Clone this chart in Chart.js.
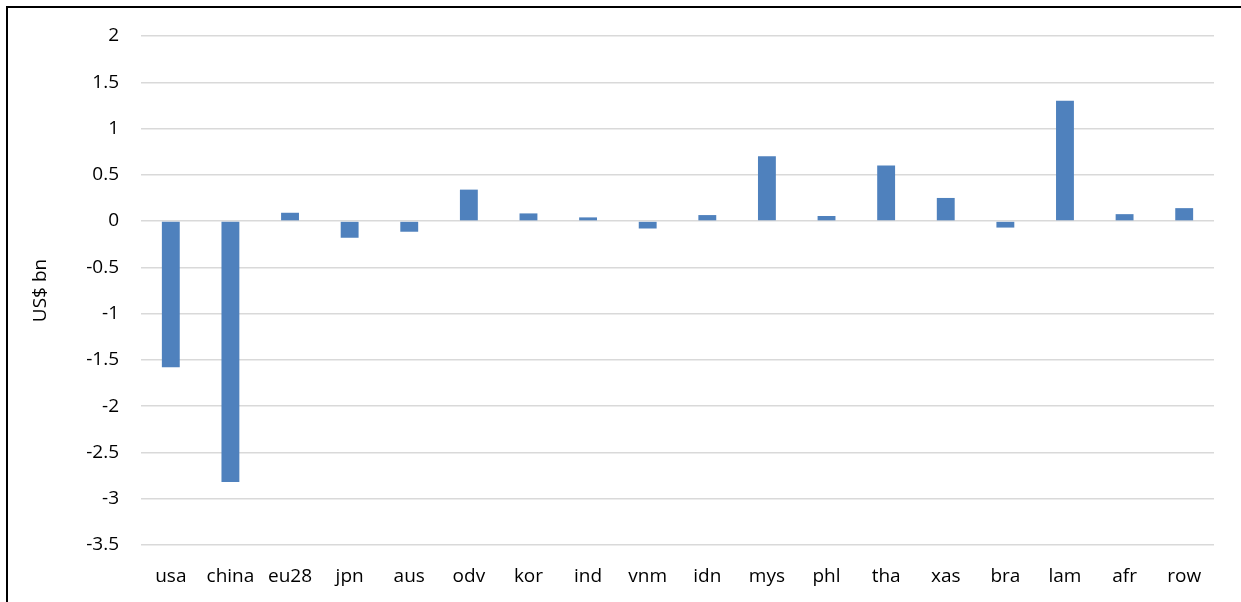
<!DOCTYPE html>
<html>
<head>
<meta charset="utf-8">
<script src="https://cdn.jsdelivr.net/npm/chart.js@4/dist/chart.umd.min.js"></script>
<style>
  html, body { margin: 0; padding: 0; background: #fff; }
  #frame { position: absolute; left: 6px; top: 6px; width: 1240px; height: 600px; border-left: 2px solid #000; border-top: 2px solid #000; }
  #wrap { position: absolute; left: 0; top: 0; width: 1241px; height: 602px; }
</style>
</head>
<body>
<div id="frame"></div>
<div id="wrap"><canvas id="myChart"></canvas></div>
<script>
const regions = ['usa', 'china', 'eu28', 'jpn', 'aus', 'odv', 'kor', 'ind', 'vnm', 'idn', 'mys', 'phl', 'tha', 'xas', 'bra', 'lam', 'afr', 'row']
const values = [-1.58, -2.82, 0.09, -0.18, -0.115, 0.34, 0.083, 0.04, -0.08, 0.065, 0.70, 0.055, 0.60, 0.25, -0.07, 1.30, 0.075, 0.14]
const yMin = -3.5
const yMax = 2
const yStep = 0.5

function drawChart() {
  const ctx = document.getElementById('myChart').getContext('2d')
  const font = { family: 'Open Sans', size: 19 }
  const chart = new Chart(ctx, {
    type: 'bar',
    data: {
      labels: regions,
      datasets: [
        {
          label: 'US$ bn',
          data: values,
          backgroundColor: '#4f81bd',
          borderWidth: 0,
          barPercentage: 0.3,
          categoryPercentage: 1,
        },
      ],
    },
    options: {
      responsive: true,
      maintainAspectRatio: false,
      animation: false,
      layout: { padding: { left: 0, top: 36, right: 27, bottom: 0 } },
      plugins: {
        legend: { display: false },
        tooltip: { enabled: false },
      },
      scales: {
        x: {
          grid: { display: false, drawTicks: false },
          border: { display: false },
          ticks: { color: '#000', padding: 20, font, maxRotation: 0, autoSkip: false },
          afterFit: (axis) => { axis.height = 57 },
        },
        y: {
          min: yMin,
          max: yMax,
          ticks: {
            stepSize: yStep,
            color: '#000',
            padding: 22,
            font,
            callback: (v) => String(Math.round(v * 10) / 10),
          },
          grid: { color: '#d9d9d9', lineWidth: 1.5, drawTicks: false },
          border: { display: false },
          title: { display: true, text: 'US$ bn', color: '#000', font, padding: { top: 29, bottom: 0 } },
          afterFit: (axis) => { axis.width = 141 },
        },
      },
    },
  })
  return chart
}
drawChart()
</script>
</body>
</html>
